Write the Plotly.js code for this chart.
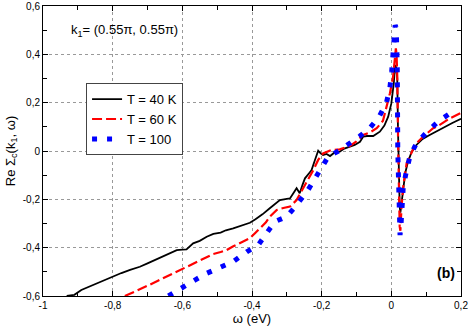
<!DOCTYPE html>
<html>
<head>
<meta charset="utf-8">
<script src="https://cdn.plot.ly/plotly-3.0.1.min.js"></script>
<style>
  html, body { margin: 0; padding: 0; background: #fff; }
  #graph { width: 469px; height: 327px; }
</style>
</head>
<body>
<div id="graph"></div>
<script>
// Re Sigma_c(k1, w), para tres temperaturas
const omega40 = [-0.932, -0.91, -0.89, -0.865, -0.845, -0.82, -0.798, -0.775, -0.75, -0.722,
  -0.70, -0.68, -0.664, -0.64, -0.616, -0.60, -0.588, -0.569, -0.55, -0.53,
  -0.511, -0.49, -0.475, -0.454, -0.43, -0.406, -0.39, -0.37, -0.349, -0.33,
  -0.32, -0.30, -0.291, -0.272, -0.263, -0.255, -0.248, -0.235, -0.229, -0.22,
  -0.21, -0.203, -0.196, -0.186, -0.176, -0.162, -0.148, -0.135, -0.119, -0.105,
  -0.09, -0.081, -0.07, -0.052, -0.033, -0.02, -0.009, 0.0, 0.007, 0.011,
  0.014, 0.017, 0.019, 0.0215, 0.024, 0.026, 0.029, 0.034, 0.040, 0.048,
  0.058, 0.072, 0.09, 0.11, 0.125, 0.149, 0.175, 0.2];
const re40 = [-0.600, -0.595, -0.575, -0.560, -0.548, -0.530, -0.520, -0.505, -0.492, -0.479,
  -0.465, -0.452, -0.444, -0.428, -0.410, -0.408, -0.407, -0.382, -0.372, -0.355,
  -0.343, -0.338, -0.328, -0.320, -0.310, -0.297, -0.282, -0.262, -0.237, -0.213,
  -0.203, -0.198, -0.196, -0.154, -0.175, -0.140, -0.113, -0.090, -0.079, -0.040,
  0.001, -0.010, -0.017, -0.012, -0.021, -0.005, -0.003, 0.010, 0.018, 0.025,
  0.038, 0.059, 0.062, 0.062, 0.080, 0.105, 0.142, 0.197, 0.280, 0.356,
  0.345, 0.300, 0.100, -0.106, -0.230, -0.255, -0.220, -0.154, -0.090, -0.044,
  -0.005, 0.025, 0.050, 0.066, 0.078, 0.098, 0.116, 0.133];

const omega60 = [-0.765, -0.74, -0.72, -0.702, -0.67, -0.636, -0.615, -0.597, -0.58, -0.559,
  -0.535, -0.511, -0.49, -0.473, -0.455, -0.435, -0.42, -0.406, -0.39, -0.377,
  -0.36, -0.349, -0.329, -0.31, -0.291, -0.272, -0.255, -0.239, -0.224, -0.21,
  -0.196, -0.172, -0.148, -0.119, -0.10, -0.081, -0.06, -0.042, -0.024, -0.004,
  0.005, 0.010, 0.013, 0.015, 0.017, 0.0195, 0.0225, 0.024, 0.026, 0.029,
  0.034, 0.039, 0.044, 0.053, 0.063, 0.072, 0.091, 0.12, 0.13, 0.168, 0.2];
const re60 = [-0.600, -0.585, -0.570, -0.559, -0.537, -0.513, -0.500, -0.486, -0.475, -0.458,
  -0.442, -0.426, -0.418, -0.410, -0.395, -0.382, -0.372, -0.361, -0.338, -0.320,
  -0.295, -0.272, -0.244, -0.236, -0.230, -0.203, -0.160, -0.120, -0.079, -0.037,
  -0.010, 0.004, 0.007, 0.021, 0.040, 0.066, 0.078, 0.094, 0.125, 0.239,
  0.307, 0.380, 0.425, 0.400, 0.310, 0.032, -0.244, -0.313, -0.330, -0.237,
  -0.150, -0.100, -0.050, -0.024, 0.010, 0.032, 0.059, 0.094, 0.100, 0.135, 0.158];

const omega100 = [-0.64, -0.597, -0.564, -0.530, -0.487, -0.454, -0.415, -0.382, -0.358, -0.334,
  -0.301, -0.277, -0.239, -0.217, -0.197, -0.181, -0.150, -0.121, -0.090, -0.060,
  -0.035, -0.014, -0.004, 0.001, 0.005, 0.008, 0.011, 0.014, 0.016, 0.017,
  0.0185, 0.021, 0.023, 0.025, 0.028, 0.031, 0.034, 0.042, 0.053, 0.072,
  0.103, 0.137, 0.176];
const re100 = [-0.600, -0.566, -0.534, -0.506, -0.479, -0.458, -0.417, -0.389, -0.340, -0.292,
  -0.272, -0.233, -0.161, -0.109, -0.068, -0.023, 0.001, 0.029, 0.062, 0.098,
  0.142, 0.200, 0.263, 0.328, 0.393, 0.456, 0.521, 0.510, 0.446, 0.350,
  0.000, -0.250, -0.330, -0.348, -0.300, -0.220, -0.154, -0.092, -0.024, 0.032,
  0.080, 0.125, 0.163];

const seriesNames = ['T = 40 K', 'T = 60 K', 'T = 100'];

const xTickVals = [-1, -0.8, -0.6, -0.4, -0.2, 0, 0.2];
const xTickText = ['-1', '-0,8', '-0,6', '-0,4', '-0,2', '0', '0,2'];
const yTickVals = [-0.6, -0.4, -0.2, 0, 0.2, 0.4, 0.6];
const yTickText = ['-0,6', '-0,4', '-0,2', '0', '0,2', '0,4', '0,6'];

const traces = [
  {
    x: omega40, y: re40, mode: 'lines', type: 'scatter', name: seriesNames[0],
    line: { color: 'black', width: 1.8 }
  },
  {
    x: omega60, y: re60, mode: 'lines', type: 'scatter', name: seriesNames[1],
    line: { color: 'red', width: 2.2, dash: '10px,4px' }
  },
  {
    x: omega100, y: re100, mode: 'lines', type: 'scatter', name: seriesNames[2],
    line: { color: 'blue', width: 5, dash: '5px,10px' }
  }
];

const axisBase = {
  showline: true,
  linecolor: 'black',
  linewidth: 1,
  mirror: 'ticks',
  ticks: 'inside',
  ticklen: 5,
  tickcolor: 'black',
  tickmode: 'array',
  showgrid: true,
  gridcolor: '#999',
  griddash: 'dot',
  gridwidth: 1,
  zeroline: false,
  tickfont: { family: 'Liberation Sans, Arial, sans-serif', size: 10, color: 'black' },
  minor: { dtick: 0.1, tick0: 0, ticks: 'inside', ticklen: 4, tickcolor: 'black', showgrid: false }
};

const layout = {
  width: 469,
  height: 327,
  margin: { l: 43, r: 8, t: 6, b: 31 },
  paper_bgcolor: 'white',
  plot_bgcolor: 'white',
  font: { family: 'Liberation Sans, Arial, sans-serif', color: 'black' },
  showlegend: true,
  legend: {
    x: 0.103, y: 0.734, xanchor: 'left', yanchor: 'top',
    bgcolor: 'white', bordercolor: '#444', borderwidth: 1,
    font: { size: 13, color: 'black' },
    tracegroupgap: 0
  },
  xaxis: Object.assign({}, axisBase, {
    range: [-1, 0.2],
    tickvals: xTickVals,
    ticktext: xTickText,
    title: { text: 'ω (eV)', font: { size: 13 }, standoff: 2 }
  }),
  yaxis: Object.assign({}, axisBase, {
    range: [-0.6, 0.6],
    tickvals: yTickVals,
    ticktext: yTickText,
    title: { text: 'Re Σ<sub>c</sub>(k<sub>1</sub>, ω)', font: { size: 13 }, standoff: 4 }
  }),
  annotations: [
    {
      xref: 'paper', yref: 'paper', x: 0.062, y: 0.915, xanchor: 'left', yanchor: 'middle',
      text: 'k<sub>1</sub>= (0.55π, 0.55π)', showarrow: false,
      font: { size: 13, color: 'black' }
    },
    {
      xref: 'paper', yref: 'paper', x: 0.99, y: 0.045, xanchor: 'right', yanchor: 'bottom',
      text: '<b>(b)</b>', showarrow: false,
      font: { size: 14, color: 'black' }
    }
  ]
};

Plotly.newPlot('graph', traces, layout, { displayModeBar: false, staticPlot: true });
</script>
</body>
</html>
